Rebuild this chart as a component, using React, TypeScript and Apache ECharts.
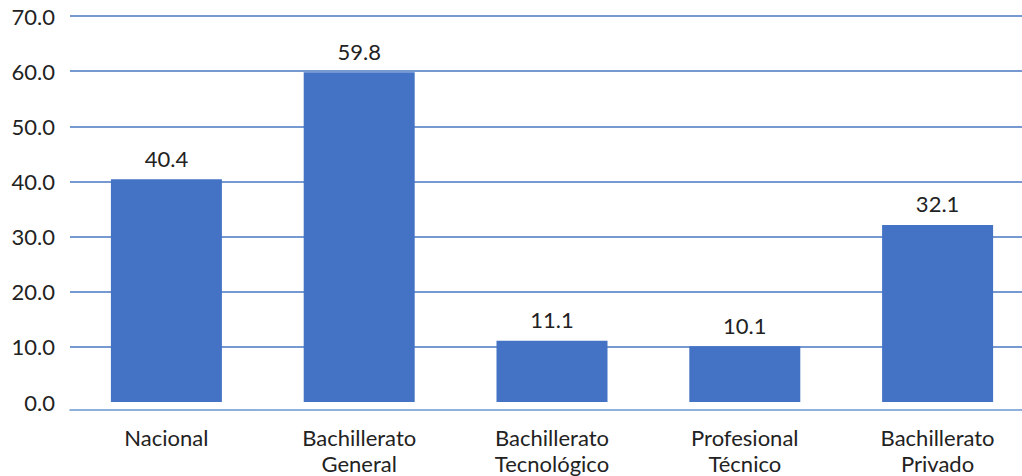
import React, { useEffect, useRef } from "react";
import * as echarts from "echarts";

const categories = [
  "Nacional",
  "Bachillerato\nGeneral",
  "Bachillerato\nTecnológico",
  "Profesional\nTécnico",
  "Bachillerato\nPrivado",
];
const values = [40.4, 59.8, 11.1, 10.1, 32.1];
const yMin = 0;
const yMax = 70;
const yStep = 10;

export default function App() {
  const ref = useRef<HTMLDivElement>(null);
  useEffect(() => {
    document.body.style.overflow = "hidden";
    const chart = echarts.init(ref.current!, undefined, { renderer: "svg" });
    const font = "Lato, 'Noto Sans', sans-serif";
    chart.setOption({
      animation: false,
      backgroundColor: "#ffffff",
      grid: { left: 70, right: 6, top: 16, bottom: 71, containLabel: false },
      xAxis: {
        type: "category",
        data: categories,
        offset: 8,
        axisLine: { show: true, onZero: false, lineStyle: { color: "#6a97d0", width: 1.5 } },
        axisTick: { show: false },
        axisLabel: {
          margin: 14,
          color: "#222222",
          fontFamily: font,
          fontSize: 22,
          lineHeight: 26,
          interval: 0,
        },
      },
      yAxis: {
        type: "value",
        min: yMin,
        max: yMax,
        interval: yStep,
        axisLine: { show: false },
        axisTick: { show: false },
        axisLabel: {
          margin: 15,
          color: "#222222",
          fontFamily: font,
          fontSize: 22,
          formatter: (v: number) => v.toFixed(1),
        },
        splitLine: {
          show: true,
          showMinLine: false,
          lineStyle: { color: "#4777c0", width: 1.5 },
        },
      },
      series: [
        {
          type: "bar",
          data: values,
          barWidth: 111,
          itemStyle: { color: "#4472c4" },
          label: {
            show: true,
            position: "top",
            distance: 10,
            color: "#222222",
            fontFamily: font,
            fontSize: 22,
            formatter: (p: any) => Number(p.value).toFixed(1),
          },
        },
      ],
    });
    return () => chart.dispose();
  }, []);
  return (
    <div
      ref={ref}
      style={{ position: "fixed", left: 0, top: 0, width: 1040, height: 476 }}
    />
  );
}
